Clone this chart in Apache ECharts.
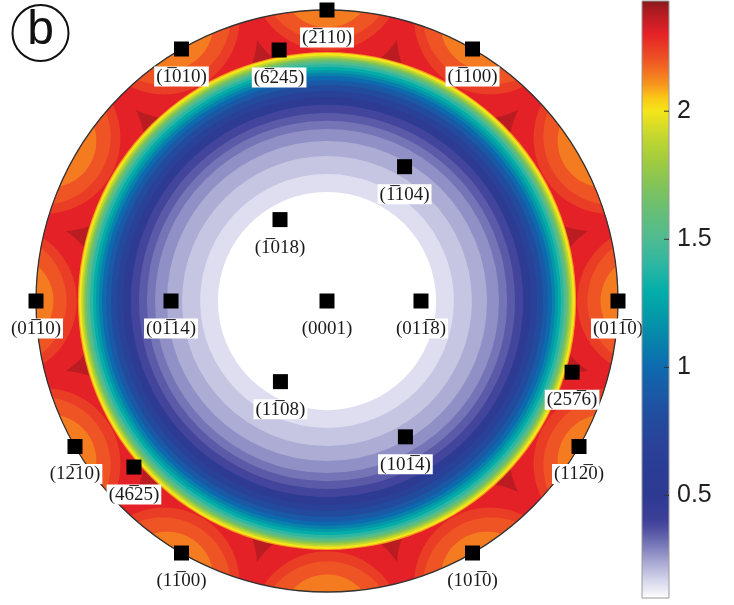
<!DOCTYPE html>
<html>
<head>
<meta charset="utf-8">
<style>
  html, body { margin: 0; padding: 0; background: #ffffff; }
  #chart { width: 734px; height: 605px; }
</style>
<script src="https://cdn.jsdelivr.net/npm/echarts@6.0.0/dist/echarts.min.js"></script>
</head>
<body>
<div id="chart"></div>
<script>
// ---- colour scale: value -> colour ----
const scaleMin = 0.1;
const scaleMax = 2.43;
const scaleValues = [0.10, 0.13, 0.17, 0.21, 0.25, 0.29, 0.33, 0.37, 0.41, 0.50, 0.60, 0.70, 0.80, 0.90,
                     1.00, 1.10, 1.20, 1.30, 1.40, 1.50, 1.60, 1.70, 1.80, 1.90, 2.00, 2.05, 2.10, 2.15,
                     2.20, 2.25, 2.30, 2.35, 2.40, 2.43];
const scaleColors = ['#ffffff', '#ececf6', '#d6d6ec', '#bcbcdd', '#a2a2cf', '#8585c0', '#6a6ab1', '#5050a3',
                     '#3c3f98', '#2e3a92', '#2b3c94', '#294298', '#224b9e', '#1a59a6', '#0d6aaf', '#0882ab',
                     '#0499a9', '#03aea9', '#2db6a2', '#4ebb92', '#64be78', '#7fc35b', '#9fcb40', '#c3d72f',
                     '#f5e51a', '#fbc817', '#f7981c', '#f37421', '#ee5424', '#e93a25', '#e42127', '#c81d24',
                     '#a51b20', '#801a1e'];
const colorbarTicks = [0.5, 1, 1.5, 2];
const colorbarTickLabels = ['0.5', '1', '1.5', '2'];

// ---- concentric contour bands (outer radius as a fraction of the rim, level) ----
const ringRadius = [0.856, 0.852, 0.844, 0.838, 0.833, 0.828, 0.821, 0.814, 0.804, 0.794, 0.784, 0.773,
                    0.759, 0.742, 0.722, 0.701, 0.674, 0.646, 0.619, 0.591, 0.550, 0.498, 0.436, 0.375];
const ringLevel  = [2.10, 2.00, 1.90, 1.80, 1.70, 1.60, 1.50, 1.40, 1.30, 1.20, 1.10, 1.00,
                    0.90, 0.80, 0.70, 0.55, 0.395, 0.355, 0.315, 0.275, 0.235, 0.195, 0.155, 0.10];

// ---- outer band: base level and the round lobes around each in-plane pole ----
const rimLevel = 2.37;
const lobeAngles = [0, 30, 60, 90, 120, 150, 180, 210, 240, 270, 300, 330];
const lobeLevel  = [2.30, 2.245, 2.20, 2.14];
const lobeCenter = [1.056, 1.12, 1.13, 1.10];  // distance of the contour centre from the pole-figure centre
const lobeRadius = [0.288, 0.26, 0.235, 0.16];

// ---- poles ----
const poleLabels = ['(2\u0305110)', '(1\u0305010)', '(1\u0305100)', '(6\u0305245)', '(1\u0305104)', '(1\u0305018)',
                    '(01\u030514)', '(0001)', '(011\u03058)', '(01\u030510)', '(011\u03050)', '(257\u03056)',
                    '(11\u030508)', '(101\u03054)', '(12\u030510)', '(112\u03050)', '(46\u030525)', '(11\u030500)',
                    '(101\u03050)'];
const poleRadius = [1, 1, 1, 0.878, 0.533, 0.323, 0.536, 0, 0.323, 1, 1, 0.877,
                    0.320, 0.539, 1, 1, 0.875, 1, 1];
const poleAngle  = [90, 120, 60, 100.8, 60, 120, 180, 0, 0, 180, 0, 343.8,
                    240, 300, 210, 330, 220.7, 240, 300];

function colorAt(v) {
  if (v <= scaleValues[0]) return scaleColors[0];
  const n = scaleValues.length;
  if (v >= scaleValues[n - 1]) return scaleColors[n - 1];
  for (let i = 0; i < n - 1; i++) {
    if (v <= scaleValues[i + 1]) {
      const t = (v - scaleValues[i]) / (scaleValues[i + 1] - scaleValues[i]);
      return echarts.color.lerp(t, [scaleColors[i], scaleColors[i + 1]]);
    }
  }
  return scaleColors[n - 1];
}

const ringData = ringRadius.map((r, i) => [r, 0, ringLevel[i]]);
const lobeData = [];
lobeLevel.forEach((lvl, j) => {
  lobeAngles.forEach(a => lobeData.push([lobeCenter[j], a, lvl, lobeRadius[j]]));
});
const poleData = poleLabels.map((name, i) => ({ name: name, value: [poleRadius[i], poleAngle[i]] }));

function pixelRadius(api, r) {
  const c = api.coord([0, 0]);
  const e = api.coord([r, 0]);
  return { c: c, r: Math.hypot(e[0] - c[0], e[1] - c[1]) };
}

const chart = echarts.init(document.getElementById('chart'), null, { renderer: 'canvas' });
const hiddenAxis = {
  axisLine: { show: false }, axisTick: { show: false }, axisLabel: { show: false },
  splitLine: { show: false }, splitArea: { show: false }
};

chart.setOption({
  animation: false,
  backgroundColor: '#ffffff',
  polar: { center: [327, 301], radius: 291 },
  angleAxis: Object.assign({ type: 'value', min: 0, max: 360, startAngle: 0, clockwise: false }, hiddenAxis),
  radiusAxis: Object.assign({ type: 'value', min: 0, max: 1 }, hiddenAxis),
  grid: { left: 642, top: 1, width: 27, height: 597 },
  xAxis: { type: 'value', min: 0, max: 1, show: false },
  yAxis: { type: 'value', min: scaleMin, max: scaleMax, show: false },
  graphic: [
    { type: 'circle', shape: { cx: 40.5, cy: 33, r: 28 }, style: { fill: 'none', stroke: '#111', lineWidth: 2 }, z: 20 },
    { type: 'text', style: { text: 'b', x: 40.5, y: 31, align: 'center', verticalAlign: 'middle',
        fontSize: 48, fontFamily: 'Liberation Sans', fill: '#111' }, z: 20 }
  ],
  series: [
    { // base level of the outer band
      type: 'custom', coordinateSystem: 'polar', silent: true, z: 1,
      data: [[1, 0, rimLevel]],
      renderItem: (params, api) => {
        const p = pixelRadius(api, api.value(0));
        return { type: 'circle', shape: { cx: p.c[0], cy: p.c[1], r: p.r }, style: { fill: colorAt(api.value(2)) } };
      }
    },
    { // round contour lobes around the in-plane poles, kept inside the rim
      type: 'custom', coordinateSystem: 'polar', silent: true, z: 2,
      data: lobeData,
      renderItem: (params, api) => {
        const c = api.value(0), ang = api.value(1) * Math.PI / 180, lvl = api.value(2), rho = api.value(3);
        const cx = c * Math.cos(ang), cy = c * Math.sin(ang);
        const pts = [];
        for (let k = 0; k < 180; k++) {
          const t = 2 * Math.PI * k / 180;
          const x = cx + rho * Math.cos(t), y = cy + rho * Math.sin(t);
          const r = Math.min(1, Math.hypot(x, y));
          pts.push(api.coord([r, Math.atan2(y, x) * 180 / Math.PI]));
        }
        return { type: 'polygon', shape: { points: pts }, style: { fill: colorAt(lvl) } };
      }
    },
    { // concentric bands, drawn from the outside in
      type: 'custom', coordinateSystem: 'polar', silent: true, z: 3,
      data: ringData,
      renderItem: (params, api) => {
        const p = pixelRadius(api, api.value(0));
        return { type: 'circle', shape: { cx: p.c[0], cy: p.c[1], r: p.r }, style: { fill: colorAt(api.value(2)) } };
      }
    },
    { // rim outline
      type: 'custom', coordinateSystem: 'polar', silent: true, z: 4,
      data: [[1, 0]],
      renderItem: (params, api) => {
        const p = pixelRadius(api, api.value(0));
        return { type: 'circle', shape: { cx: p.c[0], cy: p.c[1], r: p.r },
                 style: { fill: 'none', stroke: '#333333', lineWidth: 1.3 } };
      }
    },
    { // poles with their indices
      type: 'scatter', coordinateSystem: 'polar', z: 6,
      symbol: 'rect', symbolSize: 15,
      itemStyle: { color: '#000000', opacity: 1 },
      data: poleData,
      label: {
        show: true, formatter: '{b}', position: 'bottom', distance: 10,
        fontFamily: 'Liberation Serif', fontSize: 19, color: '#1a1a1a', opacity: 1,
        backgroundColor: '#ffffff', padding: [1, 2, 0, 2]
      },
      emphasis: { disabled: true }
    },
    { // colour bar with ticks on its inner right edge and the tick labels
      type: 'custom', coordinateSystem: 'cartesian2d', silent: true, z: 8,
      data: [[0, scaleMin, 1, scaleMax]],
      renderItem: (params, api) => {
        const p0 = api.coord([api.value(0), api.value(1)]);
        const p1 = api.coord([api.value(2), api.value(3)]);
        const stops = scaleValues.map((v, i) => ({ offset: (v - scaleMin) / (scaleMax - scaleMin), color: scaleColors[i] }));
        const children = [{
          type: 'rect',
          shape: { x: p0[0], y: p1[1], width: p1[0] - p0[0], height: p0[1] - p1[1] },
          style: { fill: new echarts.graphic.LinearGradient(0, 1, 0, 0, stops), stroke: '#9a9a9a', lineWidth: 1 }
        }];
        colorbarTicks.forEach((v, i) => {
          const q = api.coord([1, v]);
          children.push({ type: 'line', shape: { x1: q[0] - 5, y1: q[1], x2: q[0], y2: q[1] },
                          style: { stroke: '#333333', lineWidth: 1 } });
          children.push({ type: 'text', style: { text: colorbarTickLabels[i], x: q[0] + 8, y: q[1],
                          align: 'left', verticalAlign: 'middle', fontSize: 25,
                          fontFamily: 'Liberation Sans', fill: '#231f20' } });
        });
        return { type: 'group', children: children };
      }
    }
  ]
});
</script>
</body>
</html>
